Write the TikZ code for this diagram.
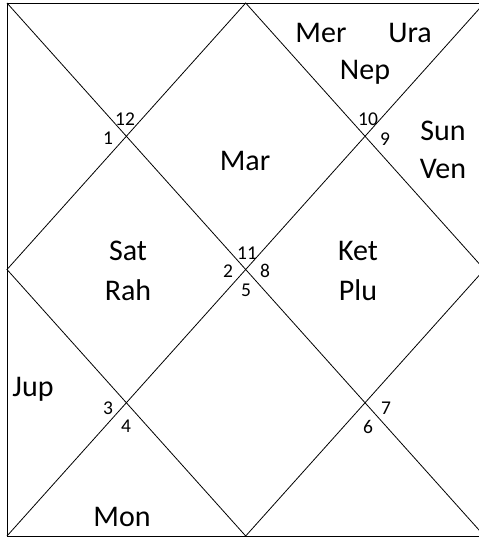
\documentclass[tikz,border=0pt]{standalone}
\usepackage{fontspec}
\setmainfont{Carlito}
\begin{document}
\begin{tikzpicture}[x=1pt,y=-1pt,
  line/.style={black,line width=0.8pt},
  planet/.style={font=\fontsize{30}{33}\selectfont,inner sep=0pt,anchor=center},
  house/.style={font=\fontsize{19.5}{21}\selectfont,inner sep=0pt,anchor=center}]
\useasboundingbox (0,0) rectangle (479,539);
\clip (0,0) rectangle (479,539);
\coordinate (TL) at (7,3);
\coordinate (TR) at (484.4,3);
\coordinate (BL) at (7,536);
\coordinate (BR) at (484.4,536);
\coordinate (T) at (245.7,3);
\coordinate (B) at (245.7,536);
\coordinate (L) at (7,269.5);
\coordinate (R) at (484.4,269.5);
\draw[line] (TL) rectangle (BR);
\draw[line] (TL) -- (BR);
\draw[line] (TR) -- (BL);
\draw[line] (T) -- (R) -- (B) -- (L) -- cycle;
% planets
\node[planet] (mer) at (321,33) {Mer};
\node[planet] (ura) at (410,33) {Ura};
\node[planet] (nep) at (365,72) {Nep};
\node[planet] (sun) at (443,131) {Sun};
\node[planet] (ven) at (443,169) {Ven};
\node[planet] (mar) at (245,161) {Mar};
\node[planet] (sat) at (128,251) {Sat};
\node[planet] (rah) at (128,290) {Rah};
\node[planet] (ket) at (358,251) {Ket};
\node[planet] (plu) at (358,290) {Plu};
\node[planet] (jup) at (33,389) {Jup};
\node[planet] (mon) at (122,517) {Mon};
% house numbers
\node[house] (h12) at (125,119) {12};
\node[house] (h1) at (108,138) {1};
\node[house] (h10) at (368,119) {10};
\node[house] (h9) at (385,139) {9};
\node[house] (h11) at (247,253) {11};
\node[house] (h2) at (228,271) {2};
\node[house] (h8) at (265,271) {8};
\node[house] (h5) at (246,290) {5};
\node[house] (h3) at (108,408) {3};
\node[house] (h4) at (126,426) {4};
\node[house] (h7) at (386,408) {7};
\node[house] (h6) at (368,427) {6};
\end{tikzpicture}
\end{document}
